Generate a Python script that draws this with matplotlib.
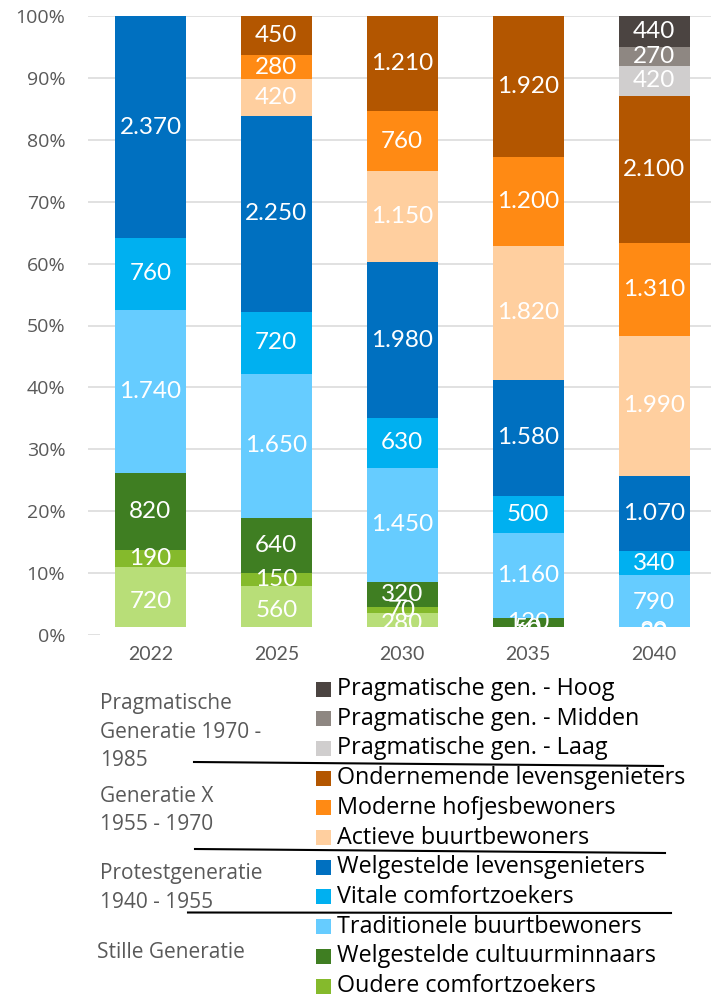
import numpy as np
import matplotlib
matplotlib.use("Agg")
import matplotlib.pyplot as plt
from matplotlib.patches import Rectangle
from matplotlib.lines import Line2D

plt.rcParams['font.family'] = ['Lato', 'DejaVu Sans']

# data (bottom -> top of each bar)
years = ['2022', '2025', '2030', '2035', '2040']
series = ['Stille generatie - overig',
          'Oudere comfortzoekers',
          'Welgestelde cultuurminnaars',
          'Traditionele buurtbewoners',
          'Vitale comfortzoekers',
          'Welgestelde levensgenieters',
          'Actieve buurtbewoners',
          'Moderne hofjesbewoners',
          'Ondernemende levensgenieters',
          'Pragmatische gen. - Laag',
          'Pragmatische gen. - Midden',
          'Pragmatische gen. - Hoog']
values = [[720, 560, 280, 60, 0],
          [190, 150, 70, 50, 30],
          [820, 640, 320, 120, 30],
          [1740, 1650, 1450, 1160, 790],
          [760, 720, 630, 500, 340],
          [2370, 2250, 1980, 1580, 1070],
          [0, 420, 1150, 1820, 1990],
          [0, 280, 760, 1200, 1310],
          [0, 450, 1210, 1920, 2100],
          [0, 0, 0, 0, 420],
          [0, 0, 0, 0, 270],
          [0, 0, 0, 0, 440]]
colors = ['#B8DE78', '#85BA2C', '#3F7E22', '#66CCFF', '#00B0F0', '#0070C0',
          '#FFCF9F', '#FF8A14', '#B35600', '#D0CECE', '#8E8782', '#4B4441']

# legend shows top series first, the bottom one is not in the legend
legend_series = series[1:][::-1]
legend_colors = colors[1:][::-1]

groups = [['Pragmatische', 'Generatie 1970 -', '1985'],
          ['Generatie X', '1955 - 1970'],
          ['Protestgeneratie', '1940 - 1955'],
          ['Stille Generatie']]

W, H = 711, 998
fig = plt.figure(figsize=(W / 100, H / 100), dpi=100)
ax = fig.add_axes([87.5 / W, 1 - 635 / H, 629.5 / W, 619 / H])

vals = np.array(values, dtype=float)
pct = vals / vals.sum(axis=0) * 100
x = np.arange(len(years))
bottom = np.zeros(len(years))
for i in range(len(series)):
    ax.bar(x, pct[i], 0.564, bottom=bottom, color=colors[i], linewidth=0, zorder=2)
    for j in range(len(years)):
        if vals[i, j] > 0:
            ax.text(x[j], bottom[j] + pct[i, j] / 2, f"{int(vals[i, j]):,}".replace(',', '.'),
                    ha='center', va='center', color='white', fontsize=17.5, zorder=3)
    bottom += pct[i]

ax.set_xlim(-0.5, len(years) - 0.5)
ax.set_ylim(0, 100)
ax.set_xticks(x)
ax.set_xticklabels(years, fontsize=14, color='#595959')
ax.set_yticks(np.arange(0, 101, 10))
ax.set_yticklabels([f"{v}%" for v in range(0, 101, 10)], fontsize=14, color='#595959',
                   family=['Open Sans', 'DejaVu Sans'])
ax.tick_params(length=0)
ax.tick_params(axis='y', pad=16)
ax.tick_params(axis='x', pad=8)
ax.grid(axis='y', color='#D9D9D9', linewidth=1.1)
ax.set_axisbelow(True)
for s in ax.spines.values():
    s.set_visible(False)

# white strip hiding the foot of the bars (as in the original picture)
ax.add_patch(Rectangle((0.02, -0.01), 1.0, 0.023, transform=ax.transAxes,
                       facecolor='white', edgecolor='none', zorder=5, clip_on=False))


def fx(px):
    return px / W


def fy(py):
    return 1 - py / H


# legend
for k, (name, c) in enumerate(zip(legend_series, legend_colors)):
    yc = 689 + 29.7 * k
    fig.patches.append(Rectangle((fx(316), fy(yc + 7.5)), 15 / W, 15 / H,
                                 transform=fig.transFigure, facecolor=c, edgecolor='none'))
    fig.text(fx(337), fy(yc), name, fontsize=16.8, color='black', va='center', ha='left',
             family=['Open Sans', 'DejaVu Sans'])

# generation labels
group_y = [[703, 732, 761], [796, 825], [873, 902], [953]]
group_x = [100, 100, 100, 97]
for lines, ys, gx in zip(groups, group_y, group_x):
    for t, yy in zip(lines, ys):
        fig.text(fx(gx), fy(yy), t, fontsize=15, color='#595959', va='center', ha='left',
                 family=['Open Sans', 'DejaVu Sans'])

# separator lines
seps = [((194, 762), (663, 766)), ((195, 849), (665, 853)), ((188, 912.5), (671, 913))]
for (x0, y0), (x1, y1) in seps:
    fig.lines.append(Line2D([fx(x0), fx(x1)], [fy(y0), fy(y1)], transform=fig.transFigure,
                            color='black', linewidth=1.5))

plt.savefig('out.png', dpi=100)
